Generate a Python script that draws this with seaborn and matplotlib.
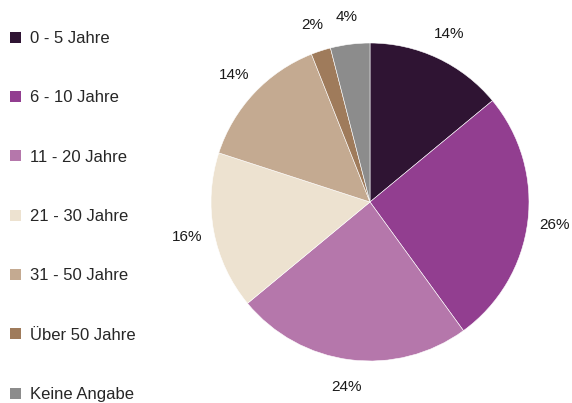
import matplotlib
matplotlib.use("Agg")
import matplotlib.pyplot as plt
from matplotlib.patches import Patch
import seaborn as sns

categories = ["0 - 5 Jahre", "6 - 10 Jahre", "11 - 20 Jahre", "21 - 30 Jahre",
              "31 - 50 Jahre", "Über 50 Jahre", "Keine Angabe"]
shares = [14, 26, 24, 16, 14, 2, 4]
colors = ["#2f1433", "#923e90", "#b577ab", "#ede2d0", "#c4aa91", "#9f7b5b", "#8c8c8c"]

sns.set_theme(style="white")
plt.rcParams["font.family"] = ["Liberation Sans", "DejaVu Sans"]

fig = plt.figure(figsize=(5.72, 4.03), dpi=100)
r = 159
ax = fig.add_axes([(370 - r) / 572, (403 - 202 - r) / 403, 2 * r / 572, 2 * r / 403])

ax.pie(shares, colors=sns.color_palette(colors), startangle=90, counterclock=False,
       autopct=lambda p: f"{p:.0f}%", pctdistance=1.17,
       wedgeprops=dict(edgecolor="white", linewidth=0.4),
       textprops=dict(fontsize=11, color="#1a1a1a"))
ax.set_xlim(-1, 1)
ax.set_ylim(-1, 1)

handles = [Patch(facecolor=c, edgecolor="none") for c in colors]
fig.legend(handles, categories, loc="upper left", bbox_to_anchor=(-0.003, 0.952),
           frameon=False, fontsize=12, labelspacing=2.66,
           handlelength=0.65, handleheight=0.65, handletextpad=0.55, borderaxespad=0.3)

fig.savefig("out.png", dpi=100)
